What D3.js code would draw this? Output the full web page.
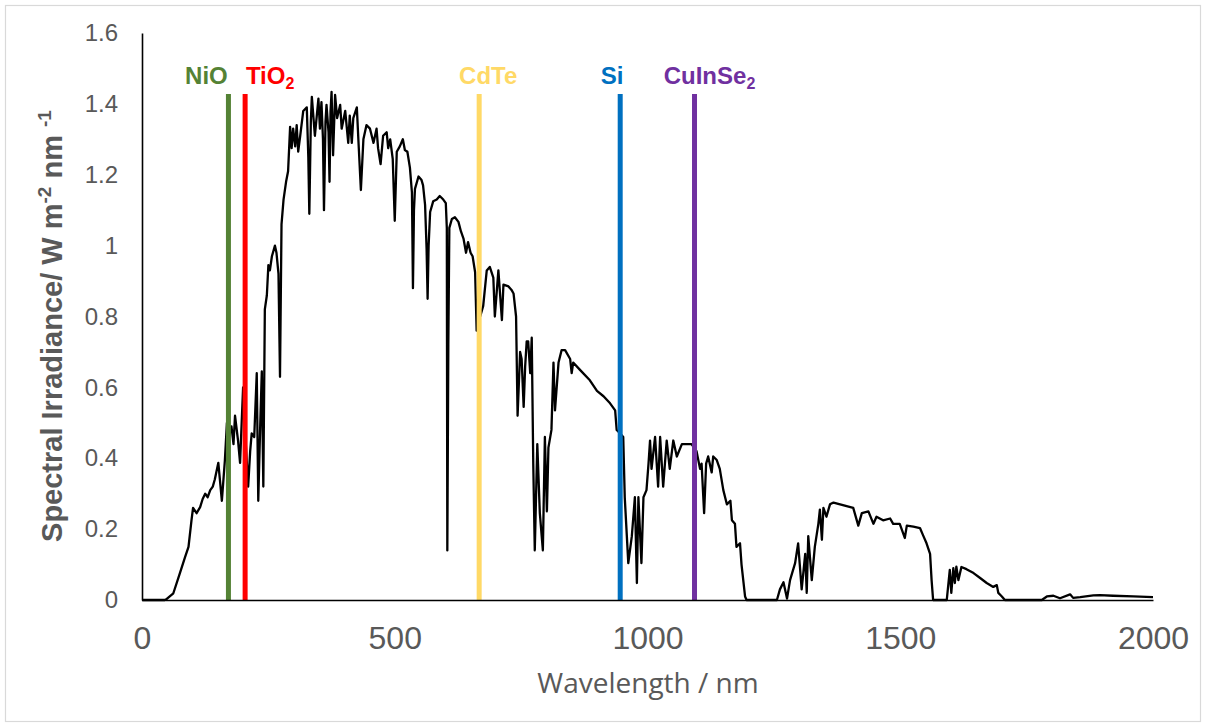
<!DOCTYPE html>
<html>
<head>
<meta charset="utf-8">
<script src="https://cdn.jsdelivr.net/npm/d3@7"></script>
<style>
  html, body { margin: 0; padding: 0; background: #fff; }
  svg { display: block; }
</style>
</head>
<body>
<svg id="chart"></svg>
<script>
// wavelength (nm) and spectral irradiance (W m-2 nm-1)
const wavelength = [
  0, 45, 49, 62, 75, 85, 92, 98, 101, 108, 115, 120, 125, 130, 135, 140, 144, 151, 158, 164,
  168, 172, 177, 181, 184, 190, 194, 200, 205, 210, 214, 217, 222, 227, 230, 234, 237, 240, 243, 247,
  250, 253, 257, 263, 266, 270, 273, 276, 280, 285, 289, 293, 296, 299, 303, 306, 309, 313, 319, 326,
  329, 331, 334, 336, 342, 349, 352, 355, 358, 360, 363, 365, 369, 371, 373, 375, 378, 382, 386, 392,
  395, 402, 408, 411, 415, 418, 425, 428, 433, 438, 444, 451, 458, 464, 467, 472, 477, 484, 487, 491,
  496, 500, 504, 510, 516, 520, 525, 530, 534, 536, 538, 540, 547, 553, 556, 560, 563, 565, 567, 570,
  576, 583, 589, 596, 601, 603, 604, 606, 608, 613, 619, 626, 631, 636, 641, 645, 650, 654, 659, 662,
  666, 669, 675, 682, 688, 695, 698, 705, 712, 715, 725, 731, 735, 740, 743, 748, 751, 755, 758, 761,
  764, 768, 771, 774, 777, 782, 787, 793, 797, 801, 804, 810, 814, 817, 824, 830, 837, 847, 850, 853,
  866, 886, 900, 913, 926, 936, 939, 946, 952, 955, 962, 969, 975, 979, 982, 988, 992, 998, 1002, 1005,
  1008, 1015, 1021, 1025, 1031, 1038, 1044, 1051, 1058, 1068, 1077, 1087, 1097, 1104, 1107, 1112, 1116, 1120, 1127, 1130,
  1137, 1143, 1150, 1157, 1164, 1167, 1173, 1176, 1183, 1186, 1193, 1196, 1256, 1262, 1269, 1276, 1282, 1292, 1298, 1305,
  1312, 1315, 1318, 1325, 1331, 1338, 1341, 1345, 1348, 1354, 1361, 1368, 1381, 1394, 1407, 1417, 1424, 1437, 1447, 1453,
  1466, 1480, 1486, 1499, 1509, 1513, 1526, 1539, 1545, 1552, 1559, 1562, 1565, 1592, 1598, 1601, 1605, 1608, 1611, 1615,
  1621, 1631, 1645, 1658, 1671, 1684, 1691, 1694, 1701, 1707, 1780, 1790, 1803, 1816, 1836, 1842, 1856, 1882, 1895, 1921,
  1961, 2000
];
const irradiance = [
  0, 0, 0.003, 0.019, 0.076, 0.12, 0.15, 0.226, 0.26, 0.245, 0.262, 0.285, 0.30, 0.29, 0.31, 0.32, 0.34, 0.387, 0.28, 0.395,
  0.50, 0.46, 0.49, 0.44, 0.52, 0.45, 0.387, 0.60, 0.45, 0.32, 0.42, 0.47, 0.46, 0.64, 0.28, 0.50, 0.645, 0.32, 0.82, 0.86,
  0.945, 0.93, 0.97, 1.0, 0.98, 0.92, 0.63, 1.06, 1.13, 1.18, 1.21, 1.335, 1.275, 1.33, 1.28, 1.34, 1.265, 1.31, 1.38, 1.39,
  1.25, 1.09, 1.35, 1.42, 1.31, 1.415, 1.33, 1.405, 1.30, 1.10, 1.35, 1.397, 1.32, 1.18, 1.38, 1.434, 1.255, 1.425, 1.36, 1.397,
  1.33, 1.38, 1.29, 1.367, 1.29, 1.36, 1.39, 1.30, 1.157, 1.30, 1.34, 1.33, 1.29, 1.33, 1.275, 1.23, 1.31, 1.32, 1.275, 1.30,
  1.245, 1.07, 1.265, 1.28, 1.30, 1.27, 1.265, 1.22, 1.15, 0.88, 1.10, 1.16, 1.195, 1.185, 1.17, 1.115, 0.99, 0.85, 1.0, 1.095,
  1.125, 1.13, 1.14, 1.13, 1.12, 1.05, 0.14, 0.72, 1.05, 1.075, 1.08, 1.067, 1.04, 1.02, 0.98, 1.01, 0.98, 0.97, 0.925, 0.76,
  0.86, 0.80, 0.83, 0.93, 0.94, 0.91, 0.80, 0.93, 0.79, 0.89, 0.885, 0.875, 0.865, 0.80, 0.52, 0.70, 0.68, 0.545, 0.66, 0.73,
  0.73, 0.64, 0.74, 0.385, 0.14, 0.44, 0.245, 0.14, 0.46, 0.25, 0.43, 0.48, 0.67, 0.535, 0.67, 0.705, 0.705, 0.68, 0.64, 0.67,
  0.65, 0.62, 0.59, 0.575, 0.555, 0.535, 0.48, 0.47, 0.46, 0.29, 0.104, 0.18, 0.29, 0.048, 0.29, 0.104, 0.29, 0.31, 0.385, 0.45,
  0.37, 0.46, 0.32, 0.46, 0.32, 0.45, 0.37, 0.45, 0.405, 0.44, 0.44, 0.44, 0.42, 0.37, 0.385, 0.245, 0.385, 0.405, 0.36, 0.405,
  0.395, 0.37, 0.31, 0.27, 0.28, 0.225, 0.215, 0.15, 0.16, 0.10, 0.01, 0, 0, 0.03, 0.05, 0.004, 0.056, 0.104, 0.16, 0.03,
  0.13, 0.02, 0.18, 0.056, 0.15, 0.215, 0.255, 0.17, 0.26, 0.235, 0.27, 0.275, 0.27, 0.265, 0.26, 0.21, 0.245, 0.25, 0.215, 0.235,
  0.225, 0.23, 0.215, 0.215, 0.175, 0.21, 0.207, 0.203, 0.183, 0.16, 0.13, 0.056, 0, 0, 0.085, 0.02, 0.09, 0.048, 0.094, 0.056,
  0.093, 0.087, 0.076, 0.062, 0.048, 0.037, 0.042, 0.02, 0.01, 0, 0, 0.01, 0.012, 0.005, 0.016, 0.006, 0.008, 0.013, 0.014, 0.012,
  0.01, 0.008
];

// band-gap markers
const materials = ["NiO", "TiO2", "CdTe", "Si", "CuInSe2"];
const edgeNm = [171, 204, 667, 946, 1093];
const edgeTop = 1.428;
const materialColors = ["#548235", "#ff0000", "#ffd966", "#0070c0", "#7030a0"];
const labelShift = [-22, 25, 9, -8, 15];

const xTicks = [0, 500, 1000, 1500, 2000];
const yTicks = [0, 0.2, 0.4, 0.6, 0.8, 1, 1.2, 1.4, 1.6];

const width = 1206, height = 728;
const margin = { top: 33, right: 53, bottom: 128, left: 142 };

const svg = d3.select("#chart")
  .attr("width", width)
  .attr("height", height);

// chart frame
svg.append("rect")
  .attr("x", 5.5).attr("y", 5.5)
  .attr("width", width - 11).attr("height", height - 12)
  .attr("fill", "#fff")
  .attr("stroke", "#d9d9d9")
  .attr("stroke-width", 1.2);

const x = d3.scaleLinear()
  .domain([0, 2000])
  .range([margin.left, width - margin.right]);

const y = d3.scaleLinear()
  .domain([0, 1.6])
  .range([height - margin.bottom, margin.top]);

// spectrum
const data = wavelength.map((w, i) => ({ w, v: irradiance[i] }));
const line = d3.line()
  .x(d => x(d.w))
  .y(d => y(d.v));

svg.append("path")
  .datum(data)
  .attr("fill", "none")
  .attr("stroke", "#000")
  .attr("stroke-width", 2.3)
  .attr("stroke-linejoin", "round")
  .attr("d", line);

// band-gap lines
svg.selectAll("line.edge")
  .data(materials)
  .enter()
  .append("line")
  .attr("class", "edge")
  .attr("x1", (d, i) => x(edgeNm[i]))
  .attr("x2", (d, i) => x(edgeNm[i]))
  .attr("y1", y(0))
  .attr("y2", y(edgeTop))
  .attr("stroke", (d, i) => materialColors[i])
  .attr("stroke-width", 5);

// labels, a trailing "2" is written as subscript
const labels = svg.selectAll("text.mat")
  .data(materials)
  .enter()
  .append("text")
  .attr("class", "mat")
  .attr("x", (d, i) => x(edgeNm[i]) + labelShift[i])
  .attr("y", 84)
  .attr("text-anchor", "middle")
  .attr("font-family", "'Liberation Sans', Arial, sans-serif")
  .attr("font-weight", "bold")
  .attr("font-size", 24)
  .attr("fill", (d, i) => materialColors[i]);

labels.each(function(d) {
  const t = d3.select(this);
  if (d.endsWith("2")) {
    t.append("tspan").text(d.slice(0, -1));
    t.append("tspan").attr("font-size", 16).attr("dy", 5).text("2");
  } else {
    t.text(d);
  }
});

// axes
const yAxis = svg.append("g")
  .attr("transform", `translate(${margin.left},0)`)
  .call(d3.axisLeft(y).tickValues(yTicks).tickSize(0).tickPadding(24).tickFormat(d => String(d)));

const xAxis = svg.append("g")
  .attr("transform", `translate(0,${height - margin.bottom})`)
  .call(d3.axisBottom(x).tickValues(xTicks).tickSize(0).tickPadding(26).tickFormat(d => String(d)));

[xAxis, yAxis].forEach(g => {
  g.select(".domain").attr("stroke", "#000").attr("stroke-width", 1.6);
  g.selectAll("text")
    .attr("fill", "#595959")
    .attr("font-family", "'Liberation Sans', Arial, sans-serif");
});
yAxis.selectAll("text").attr("font-size", 24);
xAxis.selectAll("text").attr("font-size", 32);

// axis titles
svg.append("text")
  .attr("x", 648)
  .attr("y", 693)
  .attr("text-anchor", "middle")
  .attr("font-family", "'Open Sans', sans-serif")
  .attr("font-size", 28)
  .attr("fill", "#595959")
  .text("Wavelength / nm");

const yTitle = svg.append("text")
  .attr("transform", "translate(62,326) rotate(-90)")
  .attr("text-anchor", "middle")
  .attr("font-family", "'Liberation Sans', Arial, sans-serif")
  .attr("font-weight", "bold")
  .attr("font-size", 29)
  .attr("fill", "#595959");
yTitle.append("tspan").text("Spectral Irradiance/ W m");
yTitle.append("tspan").attr("font-size", 19).attr("dy", -11).text("-2");
yTitle.append("tspan").attr("dy", 11).text(" nm ");
yTitle.append("tspan").attr("font-size", 19).attr("dy", -11).text("-1");
</script>
</body>
</html>
